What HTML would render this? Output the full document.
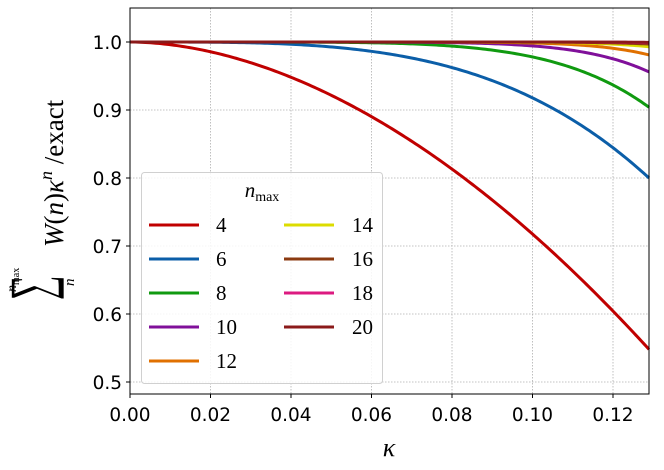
<!DOCTYPE html>
<html><head><meta charset="utf-8"><style>
html,body{margin:0;padding:0;background:#fff;}
svg{display:block;}
text{font-family:"DejaVu Sans","Liberation Sans",sans-serif;}
text.s,.s text{font-family:"Liberation Serif","DejaVu Serif",serif;}
</style></head><body>
<svg id="c" width="664" height="470" viewBox="0 0 664 470" xmlns="http://www.w3.org/2000/svg">
<g stroke="#b0b0b0" stroke-width="0.8" stroke-dasharray="1.5,1.5">
<line x1="210.5" y1="8" x2="210.5" y2="394"/><line x1="291" y1="8" x2="291" y2="394"/>
<line x1="371.5" y1="8" x2="371.5" y2="394"/><line x1="452" y1="8" x2="452" y2="394"/>
<line x1="532.5" y1="8" x2="532.5" y2="394"/><line x1="613" y1="8" x2="613" y2="394"/>
<line x1="130" y1="42" x2="649" y2="42"/><line x1="130" y1="110" x2="649" y2="110"/>
<line x1="130" y1="178" x2="649" y2="178"/><line x1="130" y1="246" x2="649" y2="246"/>
<line x1="130" y1="314" x2="649" y2="314"/><line x1="130" y1="382" x2="649" y2="382"/>
</g>
<g id="curves" fill="none" stroke-width="3" stroke-linecap="butt"></g>
<rect x="141.5" y="172.5" width="241" height="211" rx="3" fill="#fff" fill-opacity="0.85" stroke="#d0d0d0"/>
<text class="s" x="262" y="197" font-size="21" font-style="italic" text-anchor="middle">n<tspan font-style="normal" font-size="14" dy="4">max</tspan></text>
<g stroke-width="3">
<line x1="149" y1="225" x2="199" y2="225" stroke="#c00000"/>
<line x1="149" y1="259" x2="199" y2="259" stroke="#0b5ea8"/>
<line x1="149" y1="293" x2="199" y2="293" stroke="#109a10"/>
<line x1="149" y1="327" x2="199" y2="327" stroke="#80109a"/>
<line x1="149" y1="361" x2="199" y2="361" stroke="#e07000"/>
<line x1="284" y1="225" x2="334" y2="225" stroke="#dcdc00"/>
<line x1="284" y1="259" x2="334" y2="259" stroke="#8b3a10"/>
<line x1="284" y1="293" x2="334" y2="293" stroke="#dc1a80"/>
<line x1="284" y1="327" x2="334" y2="327" stroke="#8b1a1a"/>
</g>
<g class="s" font-size="21">
<text x="216" y="232">4</text><text x="216" y="266">6</text><text x="216" y="300">8</text>
<text x="216" y="334">10</text><text x="216" y="368">12</text>
<text x="352" y="232">14</text><text x="352" y="266">16</text><text x="352" y="300">18</text><text x="352" y="334">20</text>
</g>
<rect x="130" y="8" width="519" height="386" fill="none" stroke="#000" stroke-width="1"/>
<g stroke="#000">
<line x1="130" y1="394" x2="130" y2="398"/><line x1="210.5" y1="394" x2="210.5" y2="398"/>
<line x1="291" y1="394" x2="291" y2="398"/><line x1="371.5" y1="394" x2="371.5" y2="398"/>
<line x1="452" y1="394" x2="452" y2="398"/><line x1="532.5" y1="394" x2="532.5" y2="398"/>
<line x1="613" y1="394" x2="613" y2="398"/>
<line x1="126" y1="42" x2="130" y2="42"/><line x1="126" y1="110" x2="130" y2="110"/>
<line x1="126" y1="178" x2="130" y2="178"/><line x1="126" y1="246" x2="130" y2="246"/>
<line x1="126" y1="314" x2="130" y2="314"/><line x1="126" y1="382" x2="130" y2="382"/>
</g>
<g font-size="18.5" text-anchor="middle">
<text x="130" y="421">0.00</text><text x="210.5" y="421">0.02</text><text x="291" y="421">0.04</text>
<text x="371.5" y="421">0.06</text><text x="452" y="421">0.08</text><text x="532.5" y="421">0.10</text><text x="613" y="421">0.12</text>
</g>
<g font-size="18.5" text-anchor="end">
<text x="122" y="49">1.0</text><text x="122" y="117">0.9</text><text x="122" y="185">0.8</text>
<text x="122" y="253">0.7</text><text x="122" y="321">0.6</text><text x="122" y="389">0.5</text>
</g>
<text class="s" x="389" y="456" font-size="26" font-style="italic" text-anchor="middle">κ</text>
<g transform="translate(64,200) rotate(-90)" class="s">
<text transform="translate(-100,-13) scale(1.15,2.0)" x="0" y="0" font-size="30">∑</text>
<text x="-92" y="-48" font-size="14" font-style="italic">n<tspan font-style="normal" font-size="10" dy="3">max</tspan></text>
<text x="-86" y="10" font-size="15" font-style="italic">n</text>
<text x="-47" y="-1" font-size="27"><tspan font-style="italic">W</tspan>(<tspan font-style="italic">n</tspan>)<tspan font-style="italic">κ</tspan><tspan font-style="italic" font-size="18" dy="-11">n</tspan><tspan dy="11"> /exact</tspan></text>
</g>
</svg>
<script>
var specs=[["#8b1a1a",0.0005,14],["#dc1a80",0.001,13],["#8b3a10",0.003,12],["#dcdc00",0.007,11],["#e07000",0.019,10],["#80109a",0.044,8],["#109a10",0.096,5.8],["#0b5ea8",0.2,3.5],["#c00000",0.452,1.85]];
var g=document.getElementById("curves");var km=(649-130)/4025;
specs.reverse();
specs.forEach(function(s){var d="";for(var i=0;i<=200;i++){var k=km*i/200;var v=1-s[1]*Math.pow(k/km,s[2]);var x=130+k*4025,y=42+(1-v)*680;d+=(i?"L":"M")+x.toFixed(2)+","+y.toFixed(2);}
var p=document.createElementNS("http://www.w3.org/2000/svg","path");p.setAttribute("d",d);p.setAttribute("stroke",s[0]);g.appendChild(p);});
</script>
</body></html>
